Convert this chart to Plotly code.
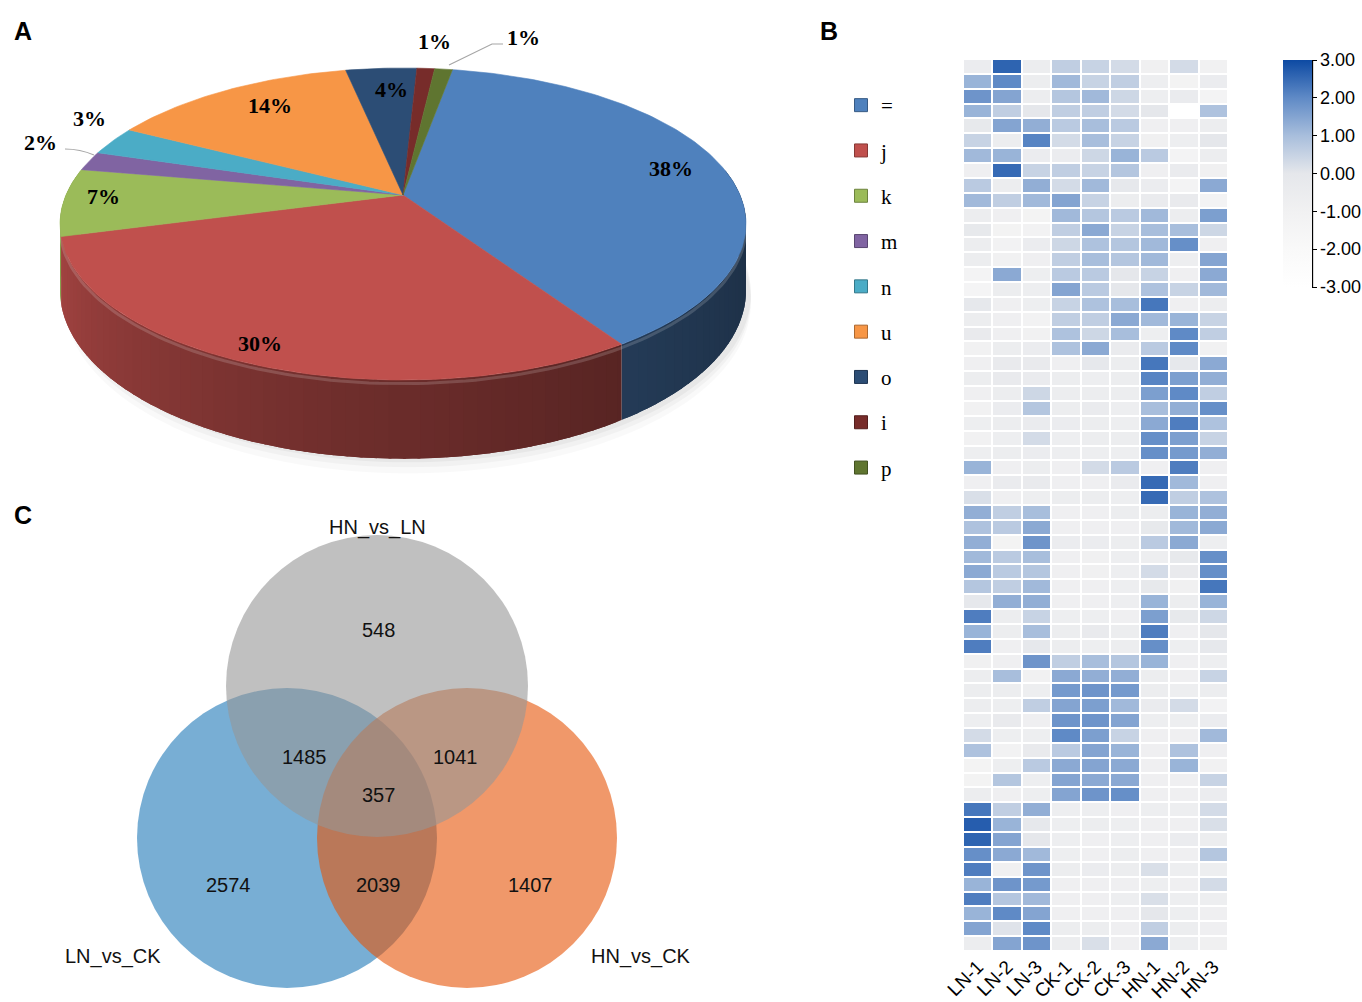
import numpy as np
import plotly.graph_objects as go

W, H = 1362, 1002

# ---------------- Panel A data ----------------
pie_labels = ["=", "j", "k", "m", "n", "u", "o", "i", "p"]
pie_percent = [38, 30, 7, 2, 3, 14, 4, 1, 1]
pie_colors = ["#4f81bd", "#c0504d", "#9bbb59", "#8064a2", "#4bacc6",
              "#f79646", "#2c4d75", "#772c2a", "#5f7530"]

# ---------------- Panel B data ----------------
samples = ["LN-1", "LN-2", "LN-3", "CK-1", "CK-2", "CK-3", "HN-1", "HN-2", "HN-3"]
ln1 = [-0.5, 1.2, 1.8, 1.2, -0.2, 0.5, 1.1, -0.8, 0.7, 1.1,
       -0.6, -0.2, -0.6, -0.6, -1.3, -1.4, -0.1, -0.6, -0.3, -1.0,
       -0.8, -0.6, -0.8, -1.0, -0.7, -1.0, -0.7, 1.2, -0.8, 0.2,
       1.3, 0.9, 1.3, 1.1, 1.4, 0.8, -0.1, 2.2, 1.2, 2.2,
       -0.9, -0.6, -0.6, -0.6, -0.7, 0.3, 0.9, -1.2, -1.2, -0.6,
       2.3, 2.7, 2.6, 1.9, 2.2, 1.2, 2.2, 1.2, 1.5, -0.6]
ln2 = [2.6, 2.0, 1.5, 0.6, 1.5, -0.6, 1.2, 2.5, -0.6, 0.6,
       -0.8, -1.2, -1.1, -1.0, 1.4, -0.6, -0.8, -0.8, -0.8, -0.6,
       -0.3, -0.3, -0.6, -0.5, -0.6, -0.7, -0.6, -0.8, -0.4, -0.8,
       0.6, 0.7, -1.2, 0.7, 0.7, 0.6, 1.3, -0.6, -0.6, -0.8,
       -0.8, 1.0, -0.6, -0.7, -0.3, -0.7, -1.1, -0.7, 0.8, -0.8,
       0.6, 1.2, 1.5, 1.4, -0.9, 1.8, 0.8, 2.0, 0.1, 1.5]
ln3 = [-0.6, -0.6, -0.6, 0.0, 1.3, 2.1, -0.5, 0.5, 1.3, 1.1,
       -1.2, -1.1, -0.5, -0.8, -0.7, -0.7, -0.7, -1.1, -1.0, -0.5,
       -0.3, -0.4, 0.4, 0.8, -0.4, 0.3, -0.5, -0.6, -0.3, -0.7,
       1.0, 1.4, 1.8, 1.0, 0.8, 1.1, 1.3, 0.5, 1.0, -0.1,
       1.8, -1.0, -0.7, 0.6, -0.8, -0.7, -0.3, 0.7, -0.7, -0.7,
       1.3, -0.1, 0.0, 1.1, 1.8, 1.7, 1.1, 1.5, 2.0, 1.8]
ck1 = [0.6, 1.1, 0.8, 0.6, 0.7, 0.3, -0.5, 0.6, 0.3, 1.5,
       1.1, 0.6, 0.4, 0.6, 0.7, 1.5, 0.5, 0.6, 0.9, 0.9,
       -0.8, -0.6, -0.6, -0.6, -0.5, -0.7, -0.7, -0.8, -0.8, -0.6,
       -0.8, -0.8, -0.5, -0.8, -0.8, -0.8, -0.8, -0.7, -0.6, -0.6,
       0.6, 1.4, 1.7, 1.5, 1.8, 2.0, 0.7, 1.4, 1.5, 1.5,
       -0.7, -0.7, -0.7, -0.7, -0.6, -0.8, -0.8, -0.8, -0.6, -0.6]
ck2 = [0.5, 0.5, 1.1, 0.6, 1.0, 1.0, 0.4, 0.5, 1.1, 0.5,
       0.8, 1.4, 0.9, 1.0, 0.7, 0.7, 0.9, 0.6, 0.4, 1.4,
       -0.1, -0.7, -0.6, -0.4, -0.6, -0.6, -0.7, 0.3, -0.8, -0.6,
       -0.8, -0.8, -0.5, -0.9, -0.9, -0.8, -0.8, -0.7, -0.3, -0.7,
       1.0, 1.3, 1.8, 1.6, 1.8, 1.6, 1.5, 1.5, 1.4, 1.8,
       -0.7, -0.6, -0.8, -0.8, -0.5, -0.8, -0.8, -0.8, -0.6, 0.2]
ck3 = [0.3, 0.6, 0.4, 0.3, 0.7, 0.5, 1.2, 0.8, -0.1, -0.6,
       0.7, 0.5, 0.8, 0.8, 0.0, 0.0, 1.0, 1.4, 1.0, -0.4,
       -0.6, -0.6, -0.6, -0.7, -0.7, -0.6, -0.7, 0.7, -0.4, -0.7,
       -0.6, -0.8, -0.6, -0.7, -0.7, -0.7, -0.7, -0.8, -0.6, -0.6,
       0.8, 1.3, 1.7, 1.1, 1.5, 0.5, 1.2, 1.4, 1.4, 1.9,
       -0.8, -0.7, -0.7, -0.6, -0.6, -0.8, -0.7, -0.8, -0.8, -0.8]
hn1 = [-0.9, -0.7, -0.7, 0.0, -0.8, -0.9, 0.7, -0.8, -0.5, -0.4,
       1.1, 1.0, 1.1, 1.1, 0.5, 0.9, 2.3, 1.1, -0.7, 0.7,
       2.3, 2.1, 1.6, 1.0, 1.4, 1.9, 1.9, -0.8, 2.5, 2.5,
       -0.6, -0.2, 0.7, -0.7, 0.3, -0.2, 1.2, 1.6, 2.2, 1.9,
       1.2, -0.6, -0.6, -0.4, -0.7, -0.8, -0.8, -0.8, -0.8, -0.8,
       -0.7, -0.8, -0.8, -0.8, 0.2, -0.7, 0.2, 0.0, 0.6, 1.4]
hn2 = [0.3, -1.2, -0.4, -3.0, -0.8, -0.7, -1.3, -0.4, -1.3, -0.3,
       -0.6, 1.0, 1.9, -0.7, -0.8, 0.5, -0.8, 1.2, 2.0, 2.0,
       -0.1, 1.6, 2.0, 1.3, 2.2, 1.6, 1.7, 2.2, 1.1, 0.6,
       1.2, 1.1, 1.4, -0.2, -0.3, -0.9, -0.6, -0.2, -0.8, -0.7,
       -0.8, -0.8, -0.7, 0.3, -0.7, -0.8, 0.9, 1.2, -0.8, -0.8,
       -0.7, -0.8, -0.5, -0.8, -0.7, -0.8, -0.7, -0.7, -0.6, -0.7]
hn3 = [-1.0, -0.5, -1.3, 0.9, -0.6, 0.0, -0.6, -0.9, 1.4, -1.3,
       1.6, 0.4, -0.8, 1.5, 1.4, 1.1, -0.6, 0.5, 0.6, -1.0,
       1.4, 1.3, 0.6, 1.9, 0.9, 0.5, 1.3, -0.8, -0.8, 0.9,
       1.3, 1.4, -0.7, 1.9, 1.9, 2.3, 1.2, 0.4, 0.0, -0.1,
       -0.7, 0.5, -0.6, -1.1, -0.5, 1.1, -0.8, -1.0, 0.5, -0.5,
       0.3, 0.2, -0.6, 0.8, -0.7, 0.3, -0.7, -0.8, -0.8, -0.9]
cbar_ticks = [3, 2, 1, 0, -1, -2, -3]

# ---------------- Panel C data ----------------
venn_set_names = ["HN_vs_LN", "LN_vs_CK", "HN_vs_CK"]
venn_region_counts = [548, 1485, 1041, 357, 2574, 2039, 1407]

# =====================================================
def px(x):
    return x / W


def py(y):
    return 1 - y / H


fig = go.Figure()

# ---------- Panel A : 3-D style pie, geometry derived from percentages ----------
CX, CY = 403.0, 195.0
KX, KY, PERSP, DEPTH = 337.0, 150.6, 0.186, 64.0
START = 10.0


def proj(alpha, drop=0.0):
    a = np.radians(alpha)
    X = np.sin(a)
    Z = -np.cos(a)
    d = 1 - PERSP * Z
    return CX + X * KX / d, CY + (Z * KY + drop) / d


def hex_rgb(h):
    h = h.lstrip("#")
    return tuple(int(h[i:i + 2], 16) for i in (0, 2, 4))


def shade(hexc, f):
    r, g, b = hex_rgb(hexc)
    return "rgb(%d,%d,%d)" % (min(255, r * f), min(255, g * f), min(255, b * f))


total = float(sum(pie_percent))
bounds = []
acc = START
for v in pie_percent:
    span = 360.0 * v / total
    bounds.append((acc, acc + span))
    acc += span

# faint soft shadow under the pie
for grow, alpha in [(12, 0.025), (7, 0.03), (3, 0.04)]:
    shx, shy = proj(np.linspace(0, 360, 181), DEPTH + grow)
    fig.add_trace(go.Scatter(x=shx + 5, y=shy, fill="toself", mode="none",
                             fillcolor="rgba(0,0,0,%.3f)" % alpha, showlegend=False,
                             hoverinfo="skip", xaxis="x", yaxis="y"))

# side walls (front half), drawn back-to-front with overlapping strips
strips = []
for (a0, a1), col in zip(bounds, pie_colors):
    lo, hi = max(a0, 80.0), min(a1, 280.0)
    if hi <= lo:
        continue
    n = max(1, int(np.ceil((hi - lo) / 2.0)))
    edges = np.linspace(lo, hi, n + 1)
    for s0, s1 in zip(edges[:-1], edges[1:]):
        strips.append((s0, s1, col, lo, hi))
strips.sort(key=lambda s: -abs((s[0] + s[1]) / 2 - 180))
for s0, s1, col, lo, hi in strips:
    mid = (s0 + s1) / 2
    t = np.clip((mid - 100) / 160.0, 0, 1)
    f = 0.38 + 0.5 * t ** 1.5
    e0, e1 = max(lo, s0 - 1.2), min(hi, s1 + 1.2)
    arc = np.linspace(e0, e1, 5)
    tx, ty = proj(arc)
    bx, by = proj(arc[::-1], DEPTH)
    c = shade(col, f)
    fig.add_trace(go.Scatter(x=list(tx) + list(bx), y=list(ty) + list(by), fill="toself",
                             mode="none", fillcolor=c,
                             showlegend=False, hoverinfo="skip", xaxis="x", yaxis="y"))

# rim highlight
rim = np.linspace(100, 260, 120)
hx, hy = proj(rim, 3.0)
fig.add_trace(go.Scatter(x=hx, y=hy, mode="lines", line=dict(color="rgba(255,255,255,0.16)", width=3),
                         showlegend=False, hoverinfo="skip", xaxis="x", yaxis="y"))

# top faces
for (a0, a1), col, lab in zip(bounds, pie_colors, pie_labels):
    n = max(3, int(np.ceil((a1 - a0) / 1.0)))
    arc = np.linspace(a0, a1, n + 1)
    tx, ty = proj(arc)
    fig.add_trace(go.Scatter(x=[CX] + list(tx) + [CX], y=[CY] + list(ty) + [CY], fill="toself",
                             mode="lines", line=dict(color=col, width=0.6), fillcolor=col,
                             name=lab, showlegend=False, hoverinfo="name",
                             xaxis="x", yaxis="y"))

# legend entries (panel B side legend of the categories)
for col, lab in zip(pie_colors, pie_labels):
    fig.add_trace(go.Scatter(x=[None], y=[None], mode="markers", name=lab, legendgroup=lab,
                             marker=dict(symbol="square", size=13, color=col,
                                         line=dict(color=shade(col, 0.7), width=1)),
                             xaxis="x", yaxis="y"))

# percentage labels
pie_label_pos = [(671, 168), (260, 343), (103, 196), (40, 142), (89, 118),
                 (270, 105), (391, 89), (434, 41), (523, 37)]
for v, (lx, ly) in zip(pie_percent, pie_label_pos):
    fig.add_annotation(x=lx, y=ly, xref="x", yref="y", text="<b>%d%%</b>" % v, showarrow=False,
                       font=dict(family="Liberation Serif, Times New Roman, serif", size=22, color="black"))

# leader lines
fig.add_shape(type="path", path="M 65 149 Q 80 149 94 155", xref="x", yref="y",
              line=dict(color="#a6a6a6", width=1.2))
fig.add_shape(type="path", path="M 449 65 L 492 44 L 503 44", xref="x", yref="y",
              line=dict(color="#a6a6a6", width=1.2))

# ---------- Panel B : heatmap ----------
cols = [ln1, ln2, ln3, ck1, ck2, ck3, hn1, hn2, hn3]
nrow = len(ln1)
z = [[c[r] for c in cols] for r in range(nrow)]
colorscale = [[0.0, "#ffffff"], [1 / 6, "#f9f9f9"], [2 / 6, "#f1f1f2"], [0.5, "#e5e7eb"],
              [4 / 6, "#a8bedc"], [5 / 6, "#5f8ac6"], [1.0, "#0d4aa3"]]
fig.add_trace(go.Heatmap(
    z=z, x=samples, y=list(range(nrow)), zmin=-3, zmax=3, colorscale=colorscale,
    xgap=2, ygap=2, xaxis="x2", yaxis="y2", hoverinfo="skip",
    colorbar=dict(x=px(1283), xanchor="left", y=py(60), yanchor="top", len=227 / H,
                  lenmode="fraction", thickness=29, xpad=0, ypad=0, outlinewidth=0,
                  tickvals=cbar_ticks, ticktext=["%.2f" % t for t in cbar_ticks],
                  ticks="outside", ticklen=5, tickcolor="black", tickwidth=1.2,
                  tickfont=dict(family="Liberation Sans, Arial", size=18, color="black")),
))
fig.add_shape(type="line", xref="paper", yref="paper", x0=px(1312.5), x1=px(1312.5),
              y0=py(60), y1=py(287), line=dict(color="black", width=1.3))

# ---------- Panel C : Venn ----------
venn_circles = [  # (cx, cy, r, rgba) ; drawn blue, orange, gray
    (287, 838, 150, "rgba(30,120,183,0.6)"),
    (467, 838, 150, "rgba(230,83,7,0.6)"),
    (377, 686, 151, "rgba(150,150,150,0.6)"),
]
for cx, cy, r, c in venn_circles:
    fig.add_shape(type="circle", xref="x3", yref="y3", x0=cx - r, x1=cx + r, y0=cy - r, y1=cy + r,
                  fillcolor=c, line=dict(width=0), layer="below")

venn_count_pos = [(378, 630), (304, 757), (455, 757), (378, 795), (228, 885), (378, 885), (530, 885)]
for v, (tx, ty) in zip(venn_region_counts, venn_count_pos):
    fig.add_annotation(x=tx, y=ty, xref="x3", yref="y3", text=str(v), showarrow=False,
                       font=dict(family="Liberation Sans, Arial", size=20, color="#111111"))
venn_name_pos = [(377, 527), (113, 956), (641, 956)]
for s, (tx, ty) in zip(venn_set_names, venn_name_pos):
    fig.add_annotation(x=tx, y=ty, xref="x3", yref="y3", text=s, showarrow=False,
                       font=dict(family="Liberation Sans, Arial", size=20, color="#111111"))

# panel letters
for letter, (lx, ly) in zip(["A", "B", "C"], [(12, 15), (829, 15), (12, 515)]):
    fig.add_annotation(x=px(lx), y=py(ly), xref="paper", yref="paper", text="<b>%s</b>" % letter,
                       showarrow=False, font=dict(family="Liberation Sans, Arial", size=25, color="black"))

hidden = dict(visible=False, showgrid=False, zeroline=False, automargin=False)
fig.update_layout(
    width=W, height=H, margin=dict(l=0, r=0, t=0, b=0, autoexpand=False),
    paper_bgcolor="white", plot_bgcolor="white",
    xaxis=dict(domain=[0, px(800)], range=[0, 800], **hidden),
    yaxis=dict(domain=[py(490), 1], range=[490, 0], **hidden),
    xaxis2=dict(domain=[px(963), px(1228)], anchor="y2", tickangle=-45, showgrid=False,
                zeroline=False, showline=False, ticks="", automargin=False,
                tickfont=dict(family="Liberation Sans, Arial", size=19, color="black")),
    yaxis2=dict(domain=[py(951), py(59)], anchor="x2", autorange="reversed", showticklabels=False,
                showgrid=False, zeroline=False, ticks="", automargin=False),
    xaxis3=dict(domain=[0, px(720)], range=[0, 720], anchor="y3", **hidden),
    yaxis3=dict(domain=[0, py(500)], range=[1002, 500], anchor="x3", **hidden),
    showlegend=True,
    legend=dict(x=px(841), y=py(85), xanchor="left", yanchor="top", bgcolor="rgba(0,0,0,0)",
                font=dict(family="Liberation Serif, Times New Roman, serif", size=21, color="black"),
                tracegroupgap=15, itemwidth=30, traceorder="grouped"),
)

fig.write_html("out.html", config={"displayModeBar": False},
               post_script="document.body.style.margin='0';")
